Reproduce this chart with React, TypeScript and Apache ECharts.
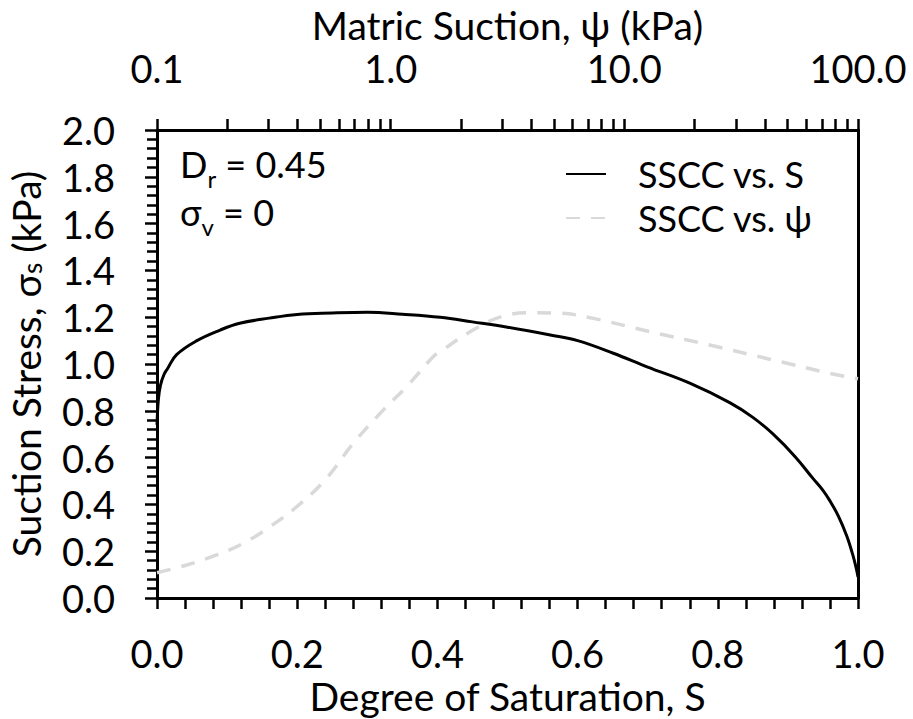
import React, { useEffect, useRef } from "react";
import * as echarts from "echarts";

// SSCC vs. degree of saturation S
const S_VALUES = [0, 0.002, 0.005, 0.01, 0.015, 0.028, 0.057, 0.09, 0.118, 0.16, 0.2, 0.25, 0.3, 0.35, 0.404, 0.45, 0.5, 0.561, 0.6, 0.651, 0.7, 0.76, 0.817, 0.85, 0.879, 0.91, 0.936, 0.95, 0.96, 0.972, 0.984, 0.993, 0.998, 1.0];
const SIGMA_VS_S = [0.74, 0.85, 0.91, 0.955, 0.98, 1.04, 1.1, 1.145, 1.174, 1.196, 1.212, 1.218, 1.221, 1.213, 1.2, 1.18, 1.157, 1.124, 1.1, 1.046, 0.987, 0.918, 0.835, 0.772, 0.7, 0.605, 0.51, 0.46, 0.415, 0.35, 0.265, 0.18, 0.12, 0.09];

// SSCC vs. matric suction psi (kPa)
const PSI_VALUES = [0.1, 0.134, 0.18, 0.234, 0.305, 0.396, 0.524, 0.692, 0.929, 1.17, 1.52, 1.63, 2.25, 3.03, 4.07, 5.3, 7.36, 12.9, 23.2, 43.4, 75.9, 100];
const SIGMA_VS_PSI = [0.108, 0.141, 0.184, 0.234, 0.305, 0.39, 0.504, 0.661, 0.803, 0.903, 1.031, 1.053, 1.145, 1.205, 1.219, 1.217, 1.195, 1.138, 1.081, 1.017, 0.96, 0.937];

// Top (log) axis ticks
const PSI_MAJOR = [0.1, 1, 10, 100];
const PSI_TICKS = [0.1, 0.2, 0.3, 0.4, 0.5, 0.6, 0.7, 0.8, 0.9, 1, 2, 3, 4, 5, 6, 7, 8, 9, 10, 20, 30, 40, 50, 60, 70, 80, 90, 100];

const FONT = "Lato";
const FS_LABEL = 38;
const FS_TITLE = 39;
const FS_TEXT = 36;

export default function App() {
  const ref = useRef<HTMLDivElement>(null);
  useEffect(() => {
    if (!ref.current) return;
    const chart = echarts.init(ref.current, null, { renderer: "svg" });
    const axisLine = { show: true, onZero: false, lineStyle: { color: "#000", width: 3 } };
    const tickStyle = { color: "#000", width: 2.5 };
    const labelStyle = { color: "#000", fontFamily: FONT, fontSize: FS_LABEL };
    const titleStyle = { color: "#000", fontFamily: FONT, fontSize: FS_TITLE, lineHeight: 39 };
    const subRich = {
      a: { fontFamily: FONT, fontSize: FS_TEXT, fill: "#000", lineHeight: 40 },
      s: { fontFamily: FONT, fontSize: 24, fill: "#000", verticalAlign: "bottom", lineHeight: 24, padding: [0, 0, -6, 0] },
    };
    const option: any = {
      animation: false,
      backgroundColor: "#fff",
      grid: { left: 157, right: 55, top: 130, bottom: 121, containLabel: false, outerBoundsMode: "none" },
      legend: {
        orient: "vertical",
        left: 565,
        top: 156,
        padding: 0,
        itemWidth: 40,
        itemHeight: 14,
        itemGap: 8,
        itemStyle: { opacity: 0 },
        textStyle: { color: "#000", fontFamily: FONT, fontSize: FS_TEXT, padding: [0, 0, 0, 27] },
        data: ["SSCC vs. S", "SSCC vs. ψ"],
      },
      xAxis: [
        {
          type: "value",
          position: "bottom",
          min: 0,
          max: 1,
          interval: 0.2,
          name: "Degree of Saturation, S",
          nameLocation: "middle",
          nameGap: 75,
          nameTextStyle: titleStyle,
          axisLine,
          axisTick: { show: true, inside: false, length: 11, lineStyle: tickStyle },
          minorTick: { show: true, splitNumber: 5, length: 11, lineStyle: tickStyle },
          splitLine: { show: false },
          axisLabel: { ...labelStyle, margin: 36, formatter: (v: number) => v.toFixed(1) },
        },
        {
          type: "value",
          position: "top",
          min: -1,
          max: 2,
          name: "Matric Suction, ψ (kPa)",
          nameLocation: "middle",
          nameGap: 84,
          nameTextStyle: titleStyle,
          axisLine,
          axisTick: {
            show: true,
            inside: false,
            length: 11,
            lineStyle: tickStyle,
            customValues: PSI_TICKS.map((p) => Math.log10(p)),
          },
          splitLine: { show: false },
          axisLabel: {
            ...labelStyle,
            margin: 43,
            customValues: PSI_MAJOR.map((p) => Math.log10(p)),
            formatter: (v: number) => Math.pow(10, v).toFixed(1),
          },
        },
      ],
      yAxis: [
        {
          type: "value",
          position: "left",
          min: 0,
          max: 2,
          interval: 0.2,
          name: "{a|Suction Stress, σ}{s|s}{a| (kPa)}",
          nameLocation: "middle",
          nameGap: 112,
          nameTextStyle: {
            ...titleStyle,
            rich: {
              a: { fontFamily: FONT, fontSize: FS_TITLE, color: "#000" },
              s: { fontFamily: FONT, fontSize: 26, color: "#000", verticalAlign: "bottom" },
            },
          },
          axisLine,
          axisTick: { show: true, inside: false, length: 12, lineStyle: tickStyle },
          minorTick: { show: true, splitNumber: 5, length: 10, lineStyle: tickStyle },
          splitLine: { show: false },
          axisLabel: { ...labelStyle, margin: 42, formatter: (v: number) => v.toFixed(1) },
        },
        {
          type: "value",
          position: "right",
          min: 0,
          max: 2,
          axisLine,
          axisTick: { show: false },
          axisLabel: { show: false },
          splitLine: { show: false },
        },
      ],
      graphic: [
        {
          type: "text",
          left: 180,
          top: 146,
          style: { text: "{a|D}{s|r}{a| = 0.45}", rich: subRich },
        },
        {
          type: "text",
          left: 180,
          top: 194,
          style: { text: "{a|σ}{s|v}{a| = 0}", rich: subRich },
        },
      ],
      series: [
        {
          name: "SSCC vs. S",
          type: "line",
          xAxisIndex: 0,
          yAxisIndex: 0,
          showSymbol: false,
          symbol: "none",
          smooth: 0.4,
          lineStyle: { color: "#000", width: 3 },
          itemStyle: { color: "#000" },
          data: S_VALUES.map((s, i) => [s, SIGMA_VS_S[i]]),
          z: 3,
        },
        {
          name: "SSCC vs. ψ",
          type: "line",
          xAxisIndex: 1,
          yAxisIndex: 0,
          showSymbol: false,
          symbol: "none",
          smooth: 0.4,
          lineStyle: { color: "#d9d9d9", width: 3.5, type: [14, 11] },
          itemStyle: { color: "#d9d9d9" },
          data: PSI_VALUES.map((p, i) => [Math.log10(p), SIGMA_VS_PSI[i]]),
          z: 2,
        },
      ],
    };
    chart.setOption(option);
    return () => chart.dispose();
  }, []);
  return <div ref={ref} style={{ position: "absolute", left: 0, top: 0, width: 913, height: 719 }} />;
}
